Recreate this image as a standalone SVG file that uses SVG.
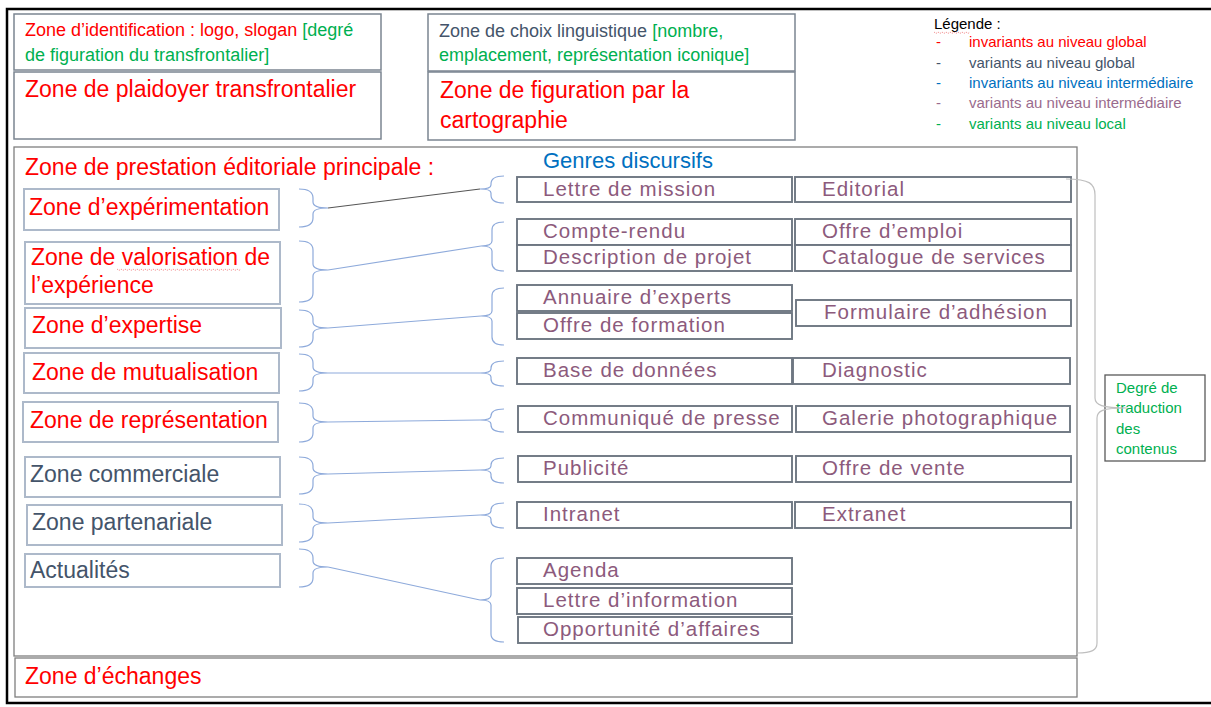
<svg xmlns="http://www.w3.org/2000/svg" width="1211" height="707" viewBox="0 0 1211 707">
<defs>
<style>
text{font-family:"Liberation Sans",Arial,sans-serif}
.lb{fill:#fff;stroke:#ADB9CA;stroke-width:2}
.rb{fill:#fff;stroke:#6E7782;stroke-width:1.9}
.tb{fill:#fff;stroke:#7B8591;stroke-width:1.5}
.fr{fill:none;stroke:#7F7F7F;stroke-width:1.3}
.red{fill:#FF0000}.gry{fill:#44546A}.blu{fill:#0070C0}.mau{fill:#8C5A7C}.grn{fill:#00B050}.lmau{fill:#9A6B8D}
.big{font-size:23px}
.sm{font-size:18px}
.gen{font-size:20.5px;letter-spacing:1px;fill:#8C5A7C}
.leg{font-size:15px}
.br{fill:none;stroke:#8EAADB;stroke-width:1.2}
.cn{fill:none;stroke:#8EAADB;stroke-width:1.2}
.sq{fill:none;stroke:#F08080;stroke-width:0.8;stroke-dasharray:1.5 1}
</style>
</defs>
<rect width="1211" height="707" fill="#fff"/>
<rect x="7" y="9" width="1214" height="694" fill="none" stroke="#000" stroke-width="2.5"/>

<g id="zone-identification">
<rect class="tb" x="14" y="14" width="367" height="56"/>
<text class="sm" x="25" y="36"><tspan class="red">Zone d’identification : logo, slogan </tspan><tspan class="grn">[degré</tspan></text>
<text class="sm grn" x="25" y="61">de figuration du transfrontalier]</text>
</g>
<g id="zone-plaidoyer">
<rect class="tb" x="14" y="72" width="367" height="67"/>
<text class="big red" x="25" y="97">Zone de plaidoyer transfrontalier</text>
</g>
<g id="zone-choix">
<rect class="tb" x="428" y="14" width="367" height="57"/>
<text class="sm" x="439" y="37"><tspan class="gry">Zone de choix linguistique </tspan><tspan class="grn">[nombre,</tspan></text>
<text class="sm grn" x="439" y="61">emplacement, représentation iconique]</text>
</g>
<g id="zone-figuration">
<rect class="tb" x="428" y="72" width="367" height="68"/>
<text class="big red" x="440" y="98">Zone de figuration par la</text>
<text class="big red" x="440" y="128">cartographie</text>
</g>

<g id="legende">
<text class="leg" x="934" y="29" fill="#000">Légende :</text>
<path class="sq" d="M934,32 l2,1.5 l2,-1.5 l2,1.5 l2,-1.5 l2,1.5 l2,-1.5 l2,1.5 l2,-1.5 l2,1.5 l2,-1.5 l2,1.5 l2,-1.5 l2,1.5 l2,-1.5 l2,1.5 l2,-1.5 l2,1.5 l2,-1.5"/>
<text class="leg red" x="936" y="47">-</text><text class="leg red" x="969" y="47">invariants au niveau global</text>
<text class="leg gry" x="936" y="68">-</text><text class="leg gry" x="969" y="68">variants au niveau global</text>
<text class="leg blu" x="936" y="88">-</text><text class="leg blu" x="969" y="88">invariants au niveau intermédiaire</text>
<text class="leg lmau" x="936" y="108">-</text><text class="leg lmau" x="969" y="108">variants au niveau intermédiaire</text>
<text class="leg grn" x="936" y="129">-</text><text class="leg grn" x="969" y="129">variants au niveau local</text>
</g>

<g id="zone-prestation">
<rect class="fr" x="14" y="147" width="1063" height="509"/>
<text class="big red" x="25" y="175">Zone de prestation éditoriale principale :</text>
<text class="blu" x="543" y="168" font-size="22">Genres discursifs</text>
</g>

<g id="zone-experimentation"><rect class="lb" x="24" y="189" width="255" height="41"/><text class="big red" x="29" y="215">Zone d’expérimentation</text></g>
<g id="zone-valorisation"><rect class="lb" x="25" y="242" width="255" height="62"/><text class="big red" x="31" y="265">Zone de valorisation de</text><text class="big red" x="31" y="293">l’expérience</text>
<path class="sq" d="M117,269 l2,1.5 l2,-1.5 l2,1.5 l2,-1.5 l2,1.5 l2,-1.5 l2,1.5 l2,-1.5 l2,1.5 l2,-1.5 l2,1.5 l2,-1.5 l2,1.5 l2,-1.5 l2,1.5 l2,-1.5 l2,1.5 l2,-1.5 l2,1.5 l2,-1.5 l2,1.5 l2,-1.5 l2,1.5 l2,-1.5 l2,1.5 l2,-1.5 l2,1.5 l2,-1.5 l2,1.5 l2,-1.5 l2,1.5 l2,-1.5 l2,1.5 l2,-1.5 l2,1.5 l2,-1.5 l2,1.5 l2,-1.5 l2,1.5 l2,-1.5 l2,1.5 l2,-1.5 l2,1.5 l2,-1.5 l2,1.5 l2,-1.5 l2,1.5 l2,-1.5 l2,1.5 l2,-1.5 l2,1.5 l2,-1.5 l2,1.5 l2,-1.5 l2,1.5 l2,-1.5 l2,1.5 l2,-1.5 l2,1.5 l2,-1.5 l2,1.5 l2,-1.5"/></g>
<g id="zone-expertise"><rect class="lb" x="25" y="308" width="256" height="40"/><text class="big red" x="32" y="333">Zone d’expertise</text></g>
<g id="zone-mutualisation"><rect class="lb" x="24" y="353" width="255" height="40"/><text class="big red" x="32" y="380">Zone de mutualisation</text></g>
<g id="zone-representation"><rect class="lb" x="23" y="402" width="255" height="40"/><text class="big red" x="30" y="428">Zone de représentation</text></g>
<g id="zone-commerciale"><rect class="lb" x="25" y="457" width="255" height="40"/><text class="big gry" x="30" y="482">Zone commerciale</text></g>
<g id="zone-partenariale"><rect class="lb" x="27" y="505" width="255" height="40"/><text class="big gry" x="32" y="530">Zone partenariale</text></g>
<g id="actualites"><rect class="lb" x="25" y="554" width="255" height="33"/><text class="big gry" x="30" y="578">Actualités</text></g>

<g id="lettre-de-mission"><rect class="rb" x="517" y="177" width="275" height="25"/><text class="gen" x="543" y="196">Lettre de mission</text></g>
<g id="editorial"><rect class="rb" x="795" y="177" width="276" height="25"/><text class="gen" x="822" y="196">Editorial</text></g>
<g id="compte-rendu"><rect class="rb" x="517" y="219" width="275" height="26"/><text class="gen" x="543" y="238">Compte-rendu</text></g>
<g id="offre-emploi"><rect class="rb" x="795" y="219" width="276" height="26"/><text class="gen" x="822" y="238">Offre d’emploi</text></g>
<g id="description-projet"><rect class="rb" x="517" y="245" width="275" height="26"/><text class="gen" x="543" y="264">Description de projet</text></g>
<g id="catalogue-services"><rect class="rb" x="795" y="245" width="276" height="26"/><text class="gen" x="822" y="264">Catalogue de services</text></g>
<g id="annuaire-experts"><rect class="rb" x="517" y="285" width="275" height="26"/><text class="gen" x="543" y="304">Annuaire d’experts</text></g>
<g id="offre-formation"><rect class="rb" x="517" y="313" width="275" height="26"/><text class="gen" x="543" y="332">Offre de formation</text></g>
<g id="formulaire-adhesion"><rect class="rb" x="796" y="300" width="275" height="26"/><text class="gen" x="824" y="319">Formulaire d’adhésion</text></g>
<g id="base-donnees"><rect class="rb" x="517" y="358" width="275" height="26"/><text class="gen" x="543" y="377">Base de données</text></g>
<g id="diagnostic"><rect class="rb" x="793" y="358" width="277" height="26"/><text class="gen" x="822" y="377">Diagnostic</text></g>
<g id="communique-presse"><rect class="rb" x="518" y="406" width="274" height="26"/><text class="gen" x="543" y="425">Communiqué de presse</text></g>
<g id="galerie-photo"><rect class="rb" x="796" y="406" width="274" height="26"/><text class="gen" x="822" y="425">Galerie photographique</text></g>
<g id="publicite"><rect class="rb" x="518" y="456" width="274" height="26"/><text class="gen" x="543" y="475">Publicité</text></g>
<g id="offre-vente"><rect class="rb" x="796" y="456" width="275" height="26"/><text class="gen" x="822" y="475">Offre de vente</text></g>
<g id="intranet"><rect class="rb" x="517" y="502" width="275" height="26"/><text class="gen" x="543" y="521">Intranet</text></g>
<g id="extranet"><rect class="rb" x="795" y="502" width="276" height="26"/><text class="gen" x="822" y="521">Extranet</text></g>
<g id="agenda"><rect class="rb" x="517" y="558" width="275" height="26"/><text class="gen" x="543" y="577">Agenda</text></g>
<g id="lettre-information"><rect class="rb" x="517" y="588" width="275" height="26"/><text class="gen" x="543" y="607">Lettre d’information</text></g>
<g id="opportunite-affaires"><rect class="rb" x="518" y="617" width="274" height="26"/><text class="gen" x="543" y="636">Opportunité d’affaires</text></g>

<g id="zone-echanges"><rect class="fr" x="15" y="658" width="1062" height="39"/><text class="big red" x="25" y="684">Zone d’échanges</text></g>

<g id="degre-traduction">
<rect x="1105" y="375" width="100" height="86" fill="#fff" stroke="#595959" stroke-width="1.3"/>
<text class="grn" font-size="15" x="1116" y="393">Degré de</text>
<text class="grn" font-size="15" x="1116" y="413">traduction</text>
<text class="grn" font-size="15" x="1116" y="434">des</text>
<text class="grn" font-size="15" x="1116" y="454">contenus</text>
</g>

<g id="connectors">
<path class="br" d="M299,189 C309,189 313,193 313,198 L313,202 C313,206 318,208 328,208 C318,208 313,210 313,214 L313,218 C313,223 309,227 299,227"/>
<path class="br" d="M299,241 C309,241 313,245 313,250 L313,264 C313,268 318,270 328,270 C318,270 313,272 313,276 L313,293 C313,298 309,302 299,302"/>
<path class="br" d="M299,310 C309,310 313,314 313,319 L313,322 C313,326 318,328 328,328 C318,328 313,330 313,334 L313,338 C313,343 309,347 299,347"/>
<path class="br" d="M299,354 C309,354 313,358 313,363 L313,367 C313,371 318,373 328,373 C318,373 313,375 313,379 L313,382 C313,387 309,391 299,391"/>
<path class="br" d="M299,403 C309,403 313,407 313,412 L313,416 C313,420 318,422 328,422 C318,422 313,424 313,428 L313,433 C313,438 309,442 299,442"/>
<path class="br" d="M299,457 C309,457 313,461 313,466 L313,468 C313,472 318,474 328,474 C318,474 313,476 313,480 L313,485 C313,490 309,494 299,494"/>
<path class="br" d="M299,504 C309,504 313,508 313,513 L313,517 C313,521 318,523 328,523 C318,523 313,525 313,529 L313,533 C313,538 309,542 299,542"/>
<path class="br" d="M299,549 C309,549 313,553 313,558 L313,561 C313,565 318,567 328,567 C318,567 313,569 313,573 L313,578 C313,583 309,587 299,587"/>
<path class="br" d="M504,176 C495,176 491,179 491,184 L491,185 C491,188 488,189 480,189 C488,189 491,190 491,193 L491,195 C491,200 495,203 504,203"/>
<path class="br" d="M504,222 C495,222 492,225 492,230 L492,241 C492,244 489,246 481,246 C489,246 492,248 492,251 L492,263 C492,268 495,271 504,271"/>
<path class="br" d="M504,288 C495,288 492,291 492,296 L492,311 C492,314 489,316 481,316 C489,316 492,318 492,321 L492,337 C492,342 495,345 504,345"/>
<path class="br" d="M504,361 C495,361 491,364 491,368 L491,369 C491,372 488,373 480,373 C488,373 491,374 491,377 L491,379 C491,383 495,386 504,386"/>
<path class="br" d="M504,409 C495,409 491,412 491,416 L491,416 C491,419 488,420 480,420 C488,420 491,421 491,424 L491,425 C491,429 495,432 504,432"/>
<path class="br" d="M504,458 C495,458 491,461 491,465 L491,466 C491,469 488,470 480,470 C488,470 491,471 491,474 L491,476 C491,480 495,483 504,483"/>
<path class="br" d="M504,503 C495,503 491,506 491,510 L491,511 C491,514 488,515 480,515 C488,515 491,516 491,519 L491,521 C491,525 495,528 504,528"/>
<path class="br" d="M504,558 C495,558 491,561 491,566 L491,595 C491,598 488,600 480,600 C488,600 491,602 491,605 L491,634 C491,639 495,642 504,642"/>
<line x1="328" y1="208" x2="480" y2="189" stroke="#555" stroke-width="1.2"/>
<line class="cn" x1="328" y1="270" x2="481" y2="246"/>
<line class="cn" x1="328" y1="328" x2="481" y2="316"/>
<line class="cn" x1="328" y1="373" x2="480" y2="373"/>
<line class="cn" x1="328" y1="422" x2="480" y2="420"/>
<line class="cn" x1="328" y1="474" x2="480" y2="470"/>
<line class="cn" x1="328" y1="523" x2="480" y2="515"/>
<line class="cn" x1="328" y1="567" x2="480" y2="600"/>
<path d="M1066,179 C1090,179 1095,184 1095,195 L1095,398 C1095,405 1102,408 1127,408 C1102,408 1097,411 1097,418 L1097,643 C1097,650 1092,653 1077,653" fill="none" stroke="#BFBFBF" stroke-width="1.2"/>
</g>
</svg>
